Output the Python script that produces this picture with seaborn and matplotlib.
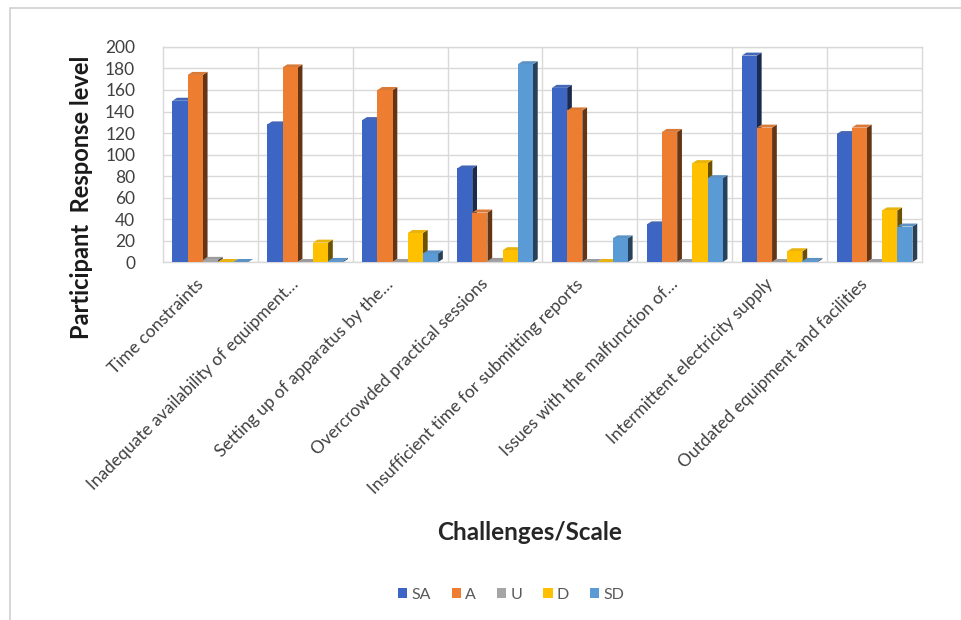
import matplotlib
matplotlib.use("Agg")
import matplotlib.pyplot as plt
import matplotlib.colors as mcolors
import matplotlib.transforms as mtransforms
from matplotlib.patches import Polygon, Rectangle
import seaborn as sns
import pandas as pd

# Survey responses per challenge and agreement scale
challenges = [
    "Time constraints",
    "Inadequate availability of equipment\u2026",
    "Setting up of apparatus by the\u2026",
    "Overcrowded practical sessions",
    "Insufficient time for submitting reports",
    "Issues with the malfunction of\u2026",
    "Intermittent electricity supply",
    "Outdated equipment and facilities",
]
scales = ["SA", "A", "U", "D", "SD"]
sa = [150, 128, 132, 87, 162, 35, 192, 119]
a = [174, 181, 160, 46, 141, 121, 125, 125]
u = [2, 0, 0, 1, 0, 0, 0, 0]
d = [0, 18, 27, 11, 0, 92, 10, 48]
sd = [0, 1, 8, 184, 22, 78, 1, 33]
y_ticks = list(range(0, 201, 20))

palette = ["#3D66C4", "#ED7D31", "#A5A5A5", "#FFC000", "#5B9BD5"]

rows = []
for scale, vals in zip(scales, [sa, a, u, d, sd]):
    for ch, v in zip(challenges, vals):
        rows.append({"Challenge": ch, "Scale": scale, "Count": v})
df = pd.DataFrame(rows)

sns.set_theme(style="white")
plt.rcParams["font.family"] = ["Lato", "DejaVu Sans"]

fig = plt.figure(figsize=(9.62, 6.2), dpi=100)
ax = fig.add_axes([0.1694, 0.5774, 0.789, 0.3468])

sns.barplot(data=df, x="Challenge", y="Count", hue="Scale", order=challenges,
            hue_order=scales, palette=palette, width=0.8, gap=0,
            saturation=1, ax=ax, legend=True, linewidth=0)

# Give each bar a darker side face and a lighter top face for a depth look
dx, dy = 0.05, 2.8
bars = [p for p in ax.patches
        if isinstance(p, Rectangle) and 0 < p.get_width() < 1]
for p in bars:
    x, w, h = p.get_x(), p.get_width(), p.get_height()
    col = mcolors.to_rgb(p.get_facecolor())
    dark = tuple(c * 0.42 for c in col)
    light = tuple(min(1, c * 0.85 + 0.06) for c in col)
    p.set_zorder(3 + (x + 0.5) * 0.1)
    side = Polygon([(x + w, 0), (x + w + dx, dy), (x + w + dx, h + dy), (x + w, h)],
                   closed=True, facecolor=dark, edgecolor="none",
                   zorder=p.get_zorder() - 0.001)
    top = Polygon([(x, h), (x + dx, h + dy), (x + w + dx, h + dy), (x + w, h)],
                  closed=True, facecolor=light, edgecolor="none",
                  zorder=p.get_zorder() - 0.001)
    ax.add_patch(side)
    ax.add_patch(top)

ax.set_ylim(0, 200)
ax.set_xlim(-0.5, len(challenges) - 0.5)
ax.set_yticks(y_ticks)
ax.set_xticks(range(len(challenges)))
ax.set_xticks([i + 0.5 for i in range(len(challenges) - 1)], minor=True)
ax.yaxis.grid(True, color="#d9d9d9", linewidth=1.0)
ax.xaxis.grid(True, which="minor", color="#d9d9d9", linewidth=1.0)
ax.set_axisbelow(True)
for s in ax.spines.values():
    s.set_color("#d9d9d9")
    s.set_linewidth(1.0)

ax.tick_params(axis="y", length=0, pad=20, labelsize=12.5, labelcolor="#404040")
ax.tick_params(axis="x", which="both", length=0, pad=10, labelsize=12.5,
               labelcolor="#404040")
ax.set_xticklabels(challenges, rotation=45, ha="right", rotation_mode="anchor")
shift = mtransforms.ScaledTranslation(-15 / 100, 0, fig.dpi_scale_trans)
for lbl in ax.get_xticklabels():
    lbl.set_transform(lbl.get_transform() + shift)

ax.set_xlabel("")
ax.set_ylabel("")
fig.text(82 / 962, 1 - 197 / 620, "Participant  Response level", rotation=90,
         ha="center", va="center", fontsize=17, fontweight="bold",
         color="#1a1a1a")
fig.text(530 / 962, 1 - 533 / 620, "Challenges/Scale", ha="center",
         va="center", fontsize=17.5, fontweight="bold", color="#262626")

sns.move_legend(ax, "center", bbox_to_anchor=(511 / 962, 1 - 595 / 620),
                bbox_transform=fig.transFigure, ncol=5, frameon=False,
                title=None, fontsize=11.5, handlelength=0.6, handleheight=0.6,
                handletextpad=0.25, columnspacing=1.3)
for t in ax.get_legend().get_texts():
    t.set_color("#595959")

# Chart frame
fig.add_artist(Rectangle((10 / 962, -0.1), 1.2, 1.1 - 8 / 620,
                         transform=fig.transFigure, fill=False,
                         edgecolor="#d0d0d0", linewidth=1.2))

fig.savefig("out.png", dpi=100)
